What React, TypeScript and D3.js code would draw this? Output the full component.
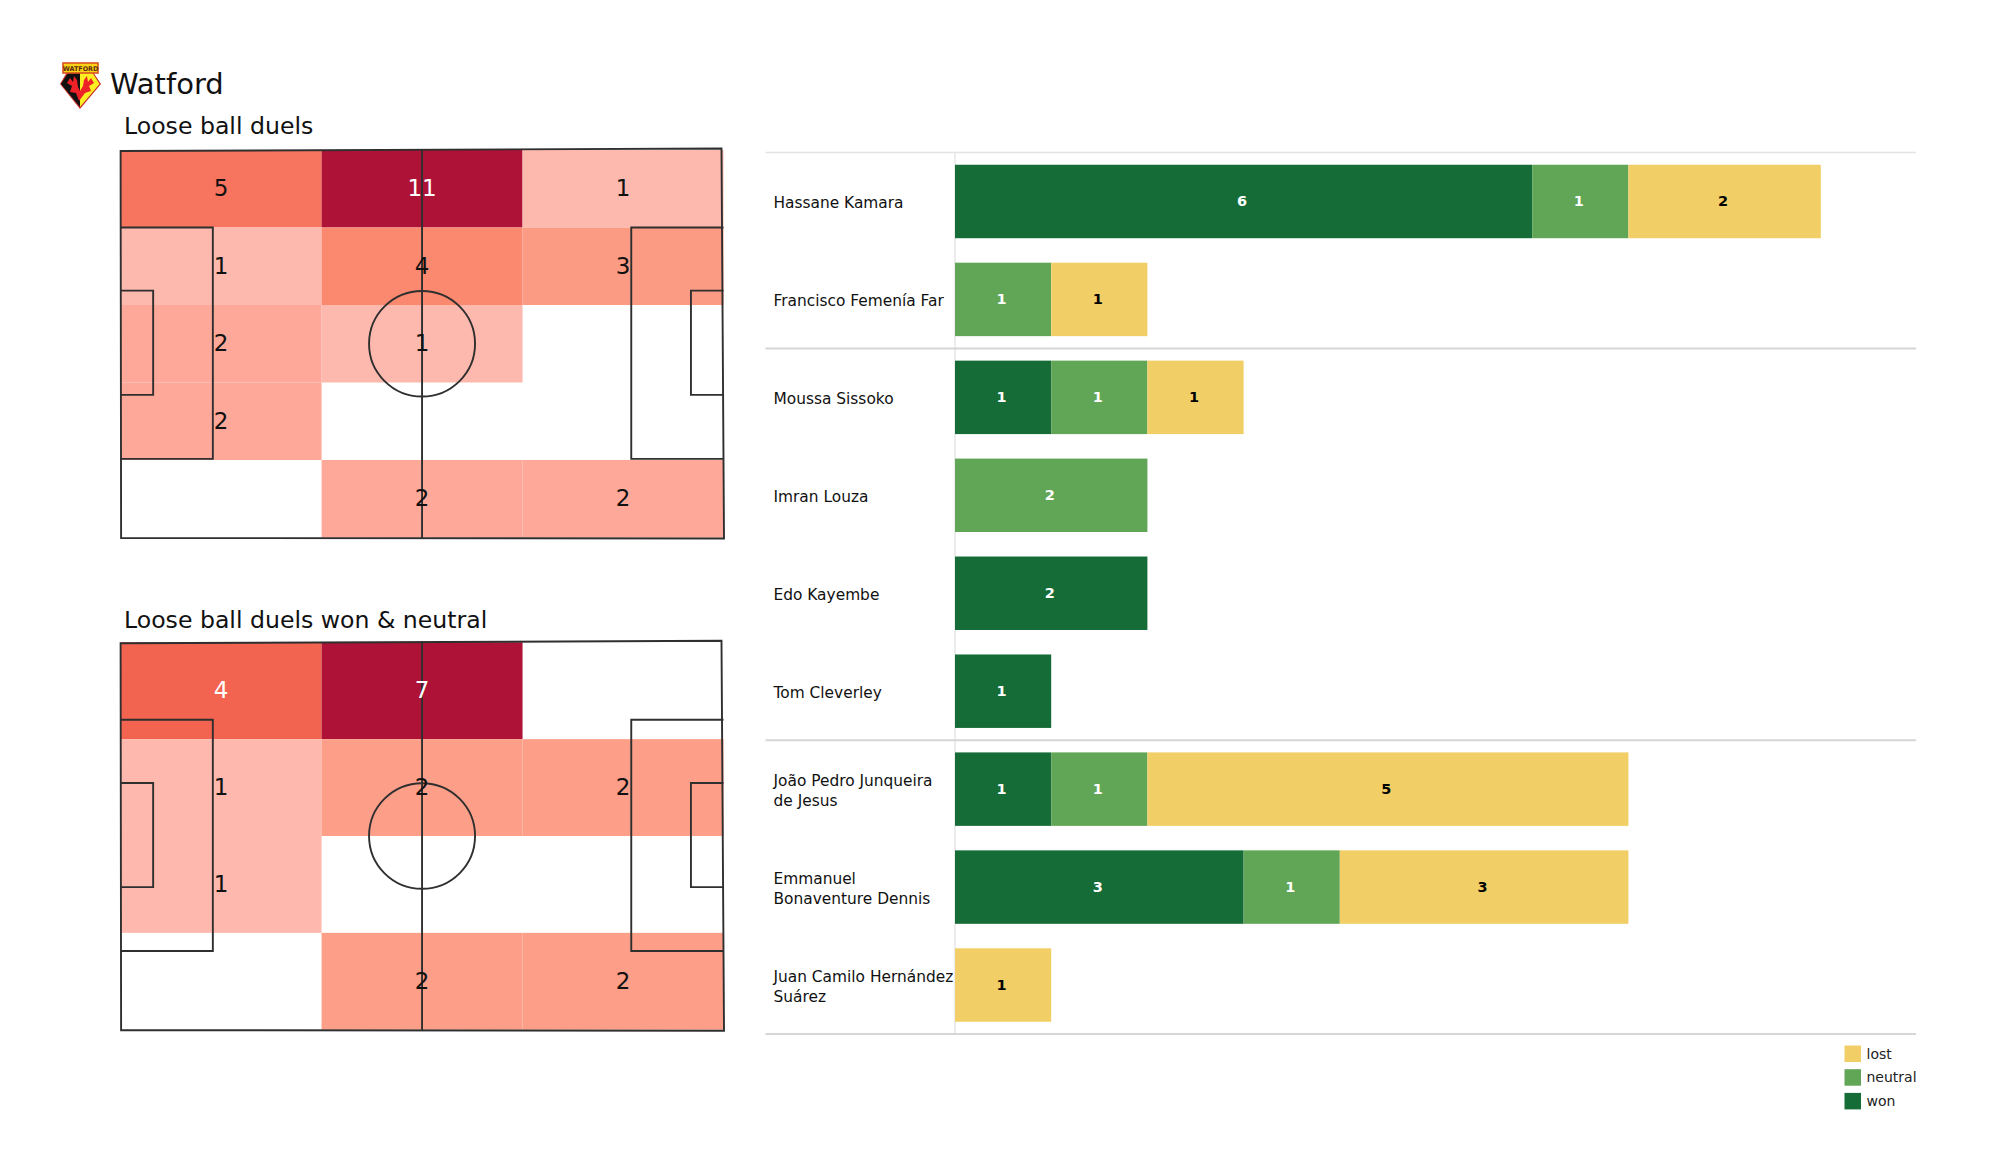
import React from 'react';
import * as d3 from 'd3';

const WIDTH = 2000;
const HEIGHT = 1175;
const FONT = '"DejaVu Sans", sans-serif';

const TEAM = 'Watford';

const TITLE_ALL = 'Loose ball duels';
const TITLE_WON = 'Loose ball duels won & neutral';
const DUELS_ALL = [
  [5, 11, 1],
  [1, 4, 3],
  [2, 1, 0],
  [2, 0, 0],
  [0, 2, 2],
];
const DUELS_WON = [
  [4, 7, 0],
  [1, 2, 2],
  [1, 0, 0],
  [0, 2, 2],
];

const PLAYERS = [
  'Hassane Kamara',
  'Francisco Femenía Far',
  'Moussa Sissoko',
  'Imran Louza',
  'Edo Kayembe',
  'Tom Cleverley',
  'João Pedro Junqueira\nde Jesus',
  'Emmanuel\nBonaventure Dennis',
  'Juan Camilo Hernández\nSuárez',
];
const WON = [6, 0, 1, 0, 2, 1, 1, 3, 0];
const NEUTRAL = [1, 1, 1, 2, 0, 0, 1, 1, 0];
const LOST = [2, 1, 1, 0, 0, 0, 5, 3, 1];
const SEPARATORS_AFTER = [1, 5];

const OUTCOMES = ['won', 'neutral', 'lost'];
const LEGEND_ORDER = ['lost', 'neutral', 'won'];
const OUTCOME_COLORS = ['#156c37', '#61a656', '#f2cf66'];
const OUTCOME_TEXT = ['#ffffff', '#ffffff', '#000000'];

const RATIO_STOPS = [0.09, 0.14, 0.18, 0.27, 0.29, 0.36, 0.45, 0.57, 1];
const RED_STOPS = ['#feb9ae', '#feb9ae', '#fea899', '#fc9a82', '#fd9f8b', '#fb8a70', '#f7755f', '#f26350', '#ae1236'];

const heatColor = d3.scaleLinear<string>().domain(RATIO_STOPS).range(RED_STOPS);
const outcomeColor = d3.scaleOrdinal<string, string>().domain(OUTCOMES).range(OUTCOME_COLORS);

const LINE = '#2f2f2f';

type PitchProps = {
  title: string;
  top: number;
  bottom: number;
  titleY: number;
  grid: number[][];
};

const Pitch = ({ title, top, bottom, titleY, grid }: PitchProps) => {
  const left = 120.6;
  const right = 723.5;
  const x = d3.scaleLinear().domain([0, 1]).range([left, right]);
  const y = d3.scaleLinear().domain([0, 1]).range([top, bottom]);
  const col = d3.scaleBand<number>().domain(d3.range(3)).range([left, right]);
  const row = d3.scaleBand<number>().domain(d3.range(grid.length)).range([top, bottom]);
  const max = d3.max(grid.flat()) || 1;

  const boxes = [
    [0, 0.153, 0.2, 0.797],
    [0, 0.054, 0.363, 0.632],
  ];

  return (
    <g>
      <text x={124} y={titleY} fontSize={23.6} fontFamily={FONT} fill="#111">
        {title}
      </text>
      {grid.map((cells, r) =>
        cells.map((v, c) =>
          v > 0 ? (
            <rect
              key={`${r}-${c}`}
              x={col(c)}
              y={row(r)}
              width={col.bandwidth()}
              height={row.bandwidth()}
              fill={heatColor(v / max)}
            />
          ) : null
        )
      )}
      {/* the outline is a little off square in the source */}
      <path
        d={`M${left},${top + 1}L${right - 2},${top - 1.5}L${right + 0.5},${bottom + 1}L${left + 0.5},${bottom + 0.5}Z`}
        fill="none"
        stroke={LINE}
        strokeWidth={1.9}
      />
      <line x1={x(0.5)} x2={x(0.5)} y1={top - 1} y2={bottom + 1} stroke={LINE} strokeWidth={1.9} />
      <ellipse
        cx={x(0.5)}
        cy={y(0.5)}
        rx={53}
        ry={52.8}
        fill="none"
        stroke={LINE}
        strokeWidth={1.9}
      />
      {boxes.map(([, w, y0, y1], i) => (
        <g key={i}>
          <path
            d={`M${x(0)},${y(y0)}H${x(w)}V${y(y1)}H${x(0)}`}
            fill="none"
            stroke={LINE}
            strokeWidth={1.9}
          />
          <path
            d={`M${x(1)},${y(y0)}H${x(1 - w)}V${y(y1)}H${x(1)}`}
            fill="none"
            stroke={LINE}
            strokeWidth={1.9}
          />
        </g>
      ))}
      {grid.map((cells, r) =>
        cells.map((v, c) =>
          v > 0 ? (
            <text
              key={`t${r}-${c}`}
              x={(col(c) || 0) + col.bandwidth() / 2}
              y={(row(r) || 0) + row.bandwidth() / 2 - 0.5}
              textAnchor="middle"
              dominantBaseline="central"
              fontSize={23}
              fontFamily={FONT}
              fill={v / max > 0.5 ? '#ffffff' : '#111'}
            >
              {v}
            </text>
          ) : null
        )
      )}
    </g>
  );
};

const Crest = () => (
  <g>
    <path d="M60,84L67,72H93L101,84L80,109Z" fill="#c9302a" />
    <path d="M61,84L68,73H80V107Z" fill="#111" />
    <path d="M99.5,84L92.5,73H80V107Z" fill="#fbee23" />
    <path
      d="M79,101L76,93L70,92L72,86L67,83L70,78L73,82L74,76L77,80L78,87L80,91L83,86L84,80L87,76L88,82L91,78L94,83L89,86L91,91L85,93Z"
      fill="#ed2127"
    />
    <rect x={63} y={63} width={35} height={10} fill="#fbd116" stroke="#d9541e" strokeWidth={1.6} />
    <text x={80.5} y={70.6} textAnchor="middle" fontSize={6.4} fontWeight="bold" fontFamily={FONT} fill="#5a2a10">
      WATFORD
    </text>
  </g>
);

const Bars = () => {
  const x0 = 955;
  const lineLeft = 765.5;
  const lineRight = 1916;
  const top = 152.5;
  const bottom = 1034;
  const x = d3.scaleLinear().domain([0, 1]).range([x0, x0 + 96.2]);
  const y = d3.scaleBand().domain(PLAYERS).range([top, bottom]).paddingInner(0.25).paddingOuter(0.125);
  const step = y.step();

  const stack = d3
    .stack<number>()
    .keys(OUTCOMES)
    .value((i, key) => [WON, NEUTRAL, LOST][OUTCOMES.indexOf(key)][i])(d3.range(PLAYERS.length));

  return (
    <g>
      <line x1={x0} x2={x0} y1={top} y2={bottom} stroke="#e6e6e6" strokeWidth={1.5} />
      <line x1={lineLeft} x2={lineRight} y1={top} y2={top} stroke="#e4e4e4" strokeWidth={1.5} />
      <line x1={lineLeft} x2={lineRight} y1={bottom} y2={bottom} stroke="#d6d6d6" strokeWidth={1.8} />
      {SEPARATORS_AFTER.map((i) => (
        <line
          key={i}
          x1={lineLeft}
          x2={lineRight}
          y1={top + step * (i + 1)}
          y2={top + step * (i + 1)}
          stroke="#d6d6d6"
          strokeWidth={2}
        />
      ))}
      {PLAYERS.map((name) => {
        const lines = name.split('\n');
        const cy = (y(name) || 0) + y.bandwidth() / 2 + 1.5;
        return (
          <text key={name} x={773.5} y={cy} fontSize={15.4} fontFamily={FONT} fill="#111" dominantBaseline="central">
            {lines.map((l, i) => (
              <tspan key={l} x={773.5} y={cy + (i - (lines.length - 1) / 2) * 20}>
                {l}
              </tspan>
            ))}
          </text>
        );
      })}
      {stack.map((series, s) =>
        series.map(([a, b], i) =>
          b > a ? (
            <g key={`${s}-${i}`}>
              <rect
                x={x(a)}
                y={y(PLAYERS[i])}
                width={x(b) - x(a)}
                height={y.bandwidth()}
                fill={outcomeColor(OUTCOMES[s])}
              />
              <text
                x={(x(a) + x(b)) / 2 - 1.5}
                y={(y(PLAYERS[i]) || 0) + y.bandwidth() / 2}
                textAnchor="middle"
                dominantBaseline="central"
                fontSize={14.5}
                fontWeight="bold"
                fontFamily={FONT}
                fill={OUTCOME_TEXT[s]}
              >
                {b - a}
              </text>
            </g>
          ) : null
        )
      )}
      {LEGEND_ORDER.map((name, i) => (
        <g key={name} transform={`translate(1844.5,${1045.5 + i * 23.7})`}>
          <rect width={16.5} height={16.5} fill={outcomeColor(name)} />
          <text x={22} y={8.3} fontSize={14} fontFamily={FONT} fill="#222" dominantBaseline="central">
            {name}
          </text>
        </g>
      ))}
    </g>
  );
};

export default function App() {
  return (
    <svg
      width={WIDTH}
      height={HEIGHT}
      style={{ position: 'absolute', left: 0, top: 0, background: '#fff' }}
    >
      <Crest />
      <text x={110} y={94} fontSize={29} fontFamily={FONT} fill="#111">
        {TEAM}
      </text>
      <Pitch title={TITLE_ALL} top={150} bottom={537.5} titleY={134} grid={DUELS_ALL} />
      <Pitch title={TITLE_WON} top={642.3} bottom={1029.7} titleY={628} grid={DUELS_WON} />
      <Bars />
    </svg>
  );
}
